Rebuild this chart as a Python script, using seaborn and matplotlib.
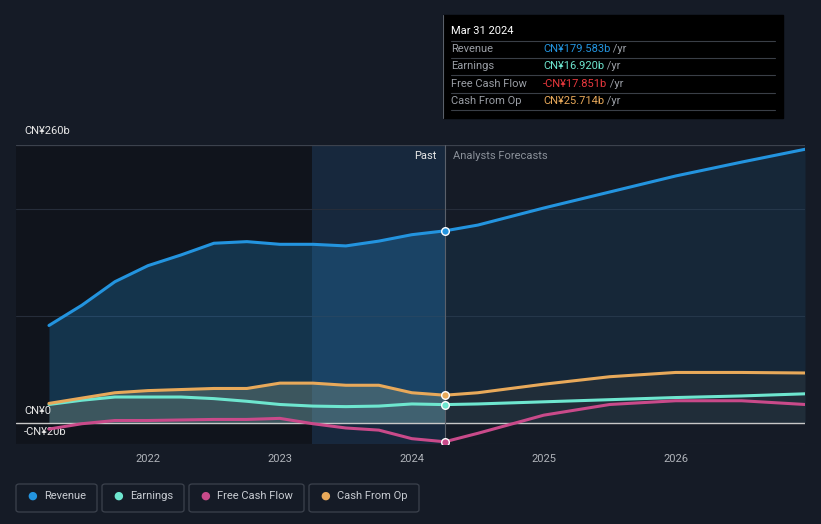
import pandas as pd
import numpy as np
import seaborn as sns
import matplotlib.pyplot as plt
from matplotlib.patches import Rectangle, FancyBboxPatch
from matplotlib.text import Annotation

# values in CN¥ billions, x in decimal years
past_x = [2021.25, 2021.5, 2021.75, 2022.0, 2022.25, 2022.5, 2022.75, 2023.0, 2023.25, 2023.5, 2023.75, 2024.0, 2024.25]
past_revenue = [91, 110, 132, 147, 157, 168, 169.5, 167, 167, 165.5, 170, 176, 179.6]
past_earnings = [17, 21, 24, 24, 24, 22.5, 20, 17, 15.5, 15, 15.5, 17.5, 16.9]
past_fcf = [-6, -1, 2, 2, 2.5, 3, 3, 4, -1, -5, -7, -15, -17.9]
past_cfo = [18, 23, 28, 30, 31, 32, 32, 37, 37, 35, 35, 28, 25.7]

fc_x = [2024.25, 2024.5, 2025.0, 2025.5, 2026.0, 2026.5, 2026.98]
fc_revenue = [179.6, 185, 201, 216, 231, 244, 256]
fc_earnings = [16.9, 17.5, 19.5, 21.5, 23.5, 25, 27]
fc_fcf = [-17.9, -10, 7, 17, 20.5, 20.5, 17]
fc_cfo = [25.7, 28, 36, 43, 47, 47, 46.5]

series = ["Revenue", "Earnings", "Free Cash Flow", "Cash From Op"]
colors = ["#2394df", "#6ee6cf", "#c94a8a", "#e8a95a"]
year_ticks = [2022, 2023, 2024, 2025, 2026]

tip_values = ["CN¥179.583b", "CN¥16.920b", "-CN¥17.851b", "CN¥25.714b"]
tip_colors = ["#2394df", "#6ee6cf", "#e8383d", "#e8a95a"]

bg = "#151b26"
sns.set_style("dark")
plt.rcParams['font.family'] = ['Roboto', 'DejaVu Sans']

past = pd.DataFrame({"x": past_x, "Revenue": past_revenue, "Earnings": past_earnings,
                     "Free Cash Flow": past_fcf, "Cash From Op": past_cfo})
fc = pd.DataFrame({"x": fc_x, "Revenue": fc_revenue, "Earnings": fc_earnings,
                   "Free Cash Flow": fc_fcf, "Cash From Op": fc_cfo})
full = pd.concat([past, fc.iloc[1:]], ignore_index=True)

fig = plt.figure(figsize=(8.21, 5.24), dpi=100, facecolor=bg)
ax = fig.add_axes([16 / 821, 1 - 444 / 524, (805 - 16) / 821, (444 - 145) / 524])
ax.set_facecolor(bg)

x0, x1 = 2021.0, 2026.98
split = 2024.25
ax.set_xlim(x0, x1)
ax.set_ylim(-20, 260)

# past shading
ax.axvspan(x0, 2023.24, color="#0e1218", alpha=0.7, lw=0, zorder=0)
ax.axvspan(2023.24, split, color="#1a3350", alpha=0.55, lw=0, zorder=0)

# grid lines
for g in [100, 200]:
    ax.axhline(g, color="#262d3a", lw=0.8, zorder=1)
ax.axhline(260, color="#3c424d", lw=0.9, zorder=1)
ax.axhline(-20, color="#2c323d", lw=0.8, zorder=1)

# area fills
ax.fill_between(past["x"], past["Revenue"], 0, color="#2394df", alpha=0.25, lw=0, zorder=2)
ax.fill_between(fc["x"], fc["Revenue"], 0, color="#2394df", alpha=0.1, lw=0, zorder=2)
ax.fill_between(past["x"], past["Cash From Op"], 0, color="#9aa88a", alpha=0.3, lw=0, zorder=2)
ax.fill_between(fc["x"], fc["Cash From Op"], 0, color="#e8a95a", alpha=0.05, lw=0, zorder=2)

ax.axhline(0, color="#c8c8c8", lw=1, zorder=3)

for name, c in zip(series, colors):
    sns.lineplot(data=full, x="x", y=name, color=c, lw=2.2, ax=ax, zorder=4)
    ax.scatter([split], [past[name].iloc[-1]], s=30, color=c, edgecolor="white",
               linewidth=1, zorder=6)

ax.axvline(split, color="#5a606a", lw=0.8, zorder=3)

ax.set_xticks(year_ticks)
ax.set_xticklabels([str(y) for y in year_ticks], color="#b0b4ba", fontsize=8)
ax.tick_params(axis="x", length=0, pad=7)
ax.set_yticks([])
ax.set_xlabel("")
ax.set_ylabel("")
for s in ax.spines.values():
    s.set_visible(False)

# y labels
ax.text(x0 + 0.06, 268, "CN¥260b", color="#e8e8e8", fontsize=8, va="bottom", clip_on=False)
ax.text(x0 + 0.06, 11, "CN¥0", color="#e8e8e8", fontsize=8, va="center")
ax.text(x0 + 0.06, -8.5, "-CN¥20b", color="#e8e8e8", fontsize=8, va="center")

ax.text(split - 0.06, 250, "Past", color="#e8e8e8", fontsize=8, ha="right", va="center")
ax.text(split + 0.06, 250, "Analysts Forecasts", color="#8a9099", fontsize=8, ha="left", va="center")

# tooltip
def fx(px):
    return px / 821

def fy(py):
    return 1 - py / 524

fig.patches.append(Rectangle((fx(443), fy(118)), fx(783) - fx(443), fy(15) - fy(118),
                             transform=fig.transFigure, color="#000000", zorder=10))
fig.add_artist(plt.Line2D([fx(443), fx(443)], [fy(118), fy(15)], color="#5a606a", lw=0.8,
                          transform=fig.transFigure, zorder=11))
fig.text(fx(451), fy(31), "Mar 31 2024", color="white", fontsize=8, va="center", zorder=12)
rows_y = [49, 66, 84, 101]
for yy in [41, 58, 75, 93, 110]:
    fig.add_artist(plt.Line2D([fx(451), fx(775)], [fy(yy), fy(yy)], color="#3a3f47", lw=0.8,
                              transform=fig.transFigure, zorder=11))
for name, val, c, yy in zip(series, tip_values, tip_colors, rows_y):
    fig.text(fx(451), fy(yy), name, color="#9a9ea5", fontsize=8, va="center", zorder=12)
    t = fig.text(fx(543), fy(yy), val, color=c, fontsize=8, va="center", zorder=12)
    a = Annotation(" /yr", xy=(1, 0.5), xycoords=t, color="#9a9ea5", fontsize=8,
                   va="center", ha="left", annotation_clip=False)
    a.set_zorder(13)
    fig.add_artist(a)

# legend boxes
boxes = [(16, 97), (102, 184), (189, 304), (309, 419)]
for (bx0, bx1), name, c in zip(boxes, series, colors):
    fig.patches.append(FancyBboxPatch((fx(bx0), fy(512)), fx(bx1) - fx(bx0), fy(484) - fy(512),
                                      boxstyle="round,pad=0,rounding_size=0.004",
                                      transform=fig.transFigure, facecolor="none",
                                      edgecolor="#3c424d", lw=0.9))
    fig.text(fx(bx0 + 16), fy(496), "●", color=c, fontsize=8, ha="center", va="center")
    fig.text(fx(bx0 + 28), fy(496), name, color="#c8ccd2", fontsize=8, va="center")

fig.savefig("out.png", dpi=100, facecolor=bg)
